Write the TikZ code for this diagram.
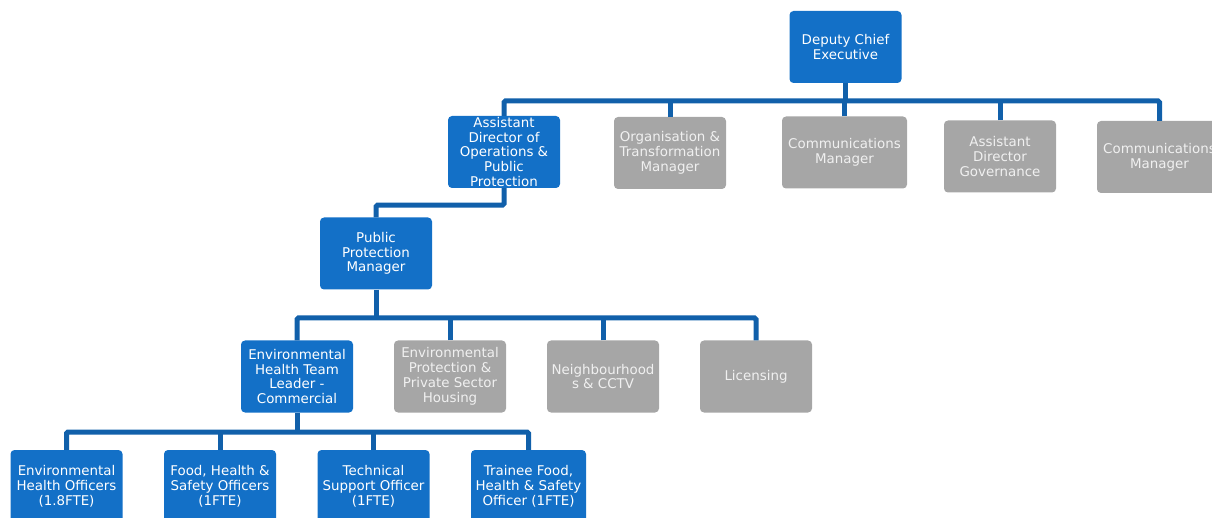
\documentclass[tikz,border=0pt]{standalone}
\usepackage{fontspec}
\setmainfont{DejaVu Sans}
\usepackage{xcolor}
\usepackage{tikz}
\usetikzlibrary{positioning,calc}
\definecolor{boxblue}{RGB}{19,112,199}
\definecolor{linkblue}{RGB}{17,96,170}
\definecolor{boxgrey}{RGB}{166,166,166}
\definecolor{greytext}{RGB}{240,240,240}

\begin{document}
\begin{tikzpicture}[
            x=1pt, y=-1pt,
            every node/.style={font=\fontsize{13.4}{14.8}\selectfont},
            box/.style={rounded corners=4pt, minimum width=112pt, minimum height=72pt, inner sep=0pt, align=center},
            bluebox/.style={box, fill=boxblue, text=white},
            greybox/.style={box, fill=boxgrey, text=greytext},
            link/.style={draw=linkblue, line width=5pt, rounded corners=1.5pt},
        ]
            \useasboundingbox (0,0) rectangle (1212,518);
            \clip (0,0) rectangle (1212,518);

            % top
            \node[bluebox] (dce) at (845.5,47) {Deputy Chief\\Executive};
            \node[bluebox] (ado) at (504,152) {Assistant\\Director of\\Operations \&\\Public\\Protection};
            \node[greybox] (otm) at (670,153) {Organisation \&\\Transformation\\Manager};
            \node[greybox, minimum width=125pt] (cma) at (844.5,152.5) {Communications\\Manager};
            \node[greybox] (adg) at (1000,156.5) {Assistant\\Director\\Governance};
            \node[greybox, minimum width=125pt] (cmb) at (1159.5,157) {Communications\\Manager};

            % public protection
            \node[bluebox] (ppm) at (376,253.5) {Public\\Protection\\Manager};
            \node[bluebox] (ehtl) at (297,376.5) {Environmental\\Health Team\\Leader -\\Commercial};
            \node[greybox] (epps) at (450,376.5) {Environmental\\Protection \&\\Private Sector\\Housing};
            \node[greybox] (ncctv) at (603,376.5) {Neighbourhood\\s \& CCTV};
            \node[greybox] (lic) at (756,376.5) {Licensing};

            % officers
            \node[bluebox] (eho) at (66.5,486) {Environmental\\Health Officers\\(1.8FTE)};
            \node[bluebox] (fhso) at (220,486) {Food, Health \&\\Safety Officers\\(1FTE)};
            \node[bluebox] (tso) at (373.5,486) {Technical\\Support Officer\\(1FTE)};
            \node[bluebox, minimum width=115pt] (tfo) at (528.5,486) {Trainee Food,\\Health \& Safety\\Officer (1FTE)};

            \coordinate (bara) at (845.5,101);
            \coordinate (barb) at (376,318);
            \coordinate (barc) at (297,432);

            \draw[link] (dce.south) -- (bara);
            \draw[link] (ado.north) |- (bara) -| (cmb.north);
            \draw[link] (otm.north) -- (otm.north |- bara);
            \draw[link] (cma.north) -- (cma.north |- bara);
            \draw[link] (adg.north) -- (adg.north |- bara);

            \draw[link] (ado.south) -- ++(0,17) -| (ppm.north);

            \draw[link] (ppm.south) -- (barb);
            \draw[link] (ehtl.north) |- (barb) -| (lic.north);
            \draw[link] (epps.north) -- (epps.north |- barb);
            \draw[link] (ncctv.north) -- (ncctv.north |- barb);

            \draw[link] (ehtl.south) -- (barc);
            \draw[link] (eho.north) |- (barc) -| (tfo.north);
            \draw[link] (fhso.north) -- (fhso.north |- barc);
            \draw[link] (tso.north) -- (tso.north |- barc);
        \end{tikzpicture}
\end{document}
